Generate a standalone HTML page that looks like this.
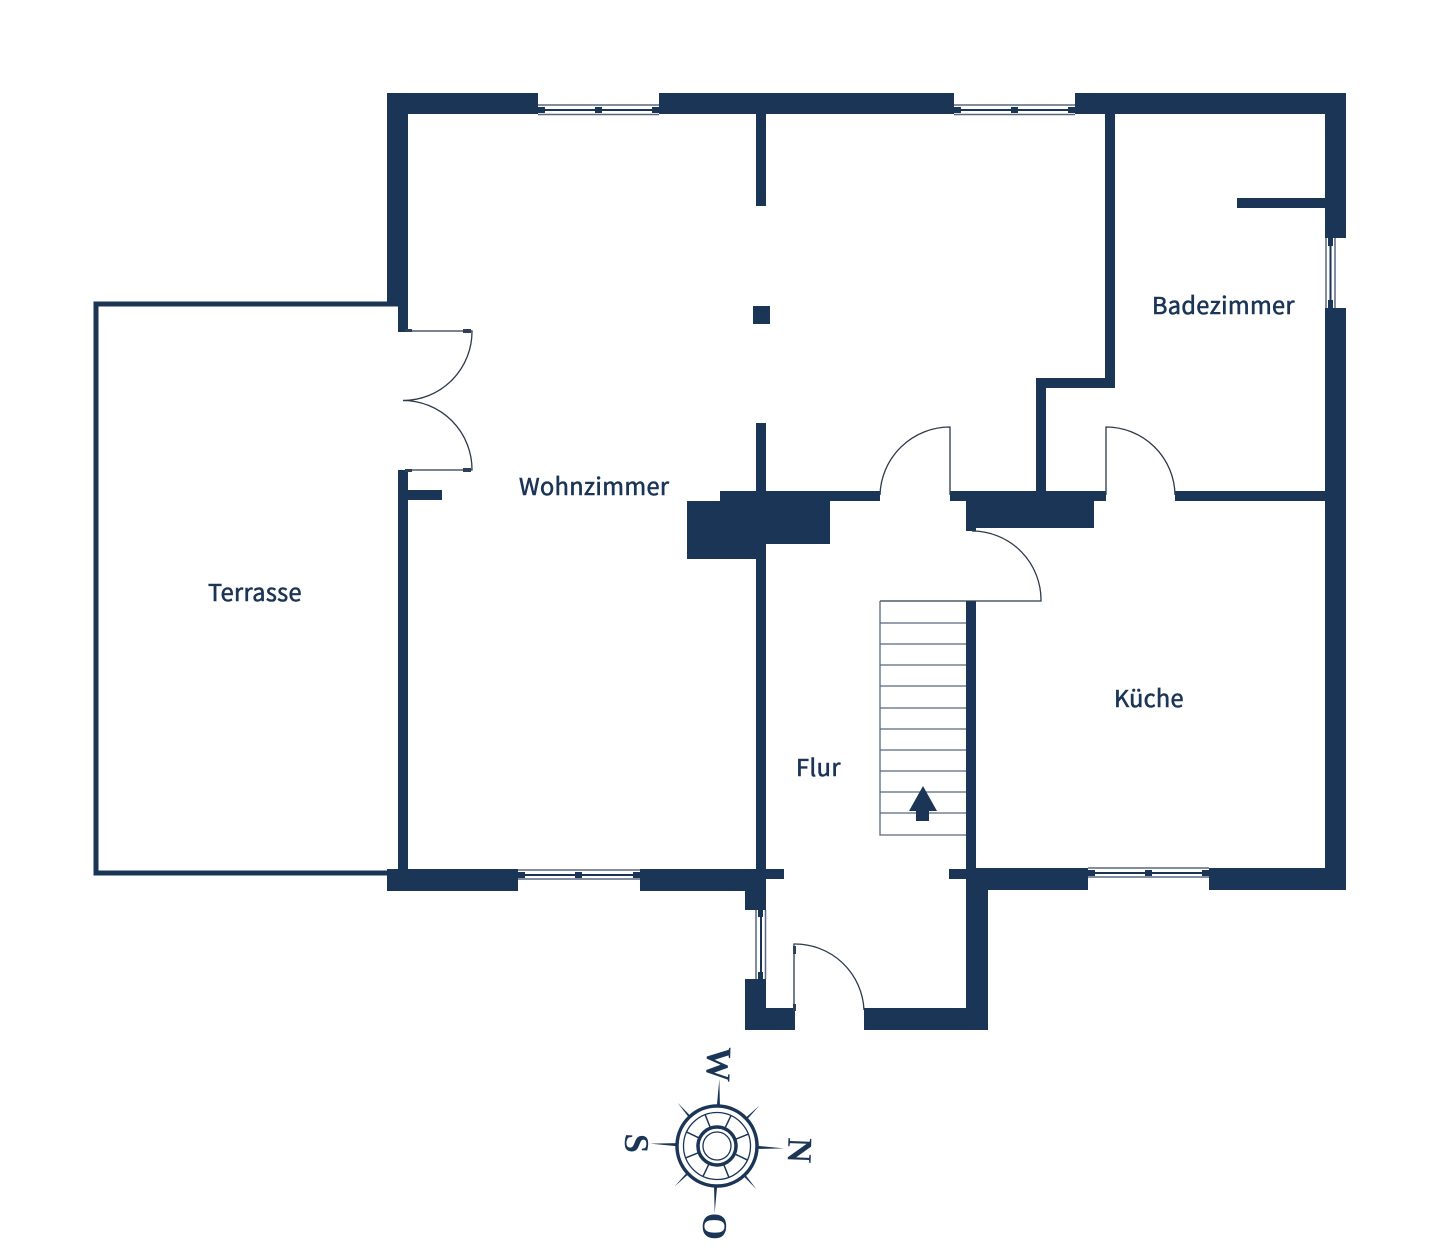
<!DOCTYPE html>
<html><head><meta charset="utf-8"><style>
html,body{margin:0;padding:0;background:#fff}
svg{display:block}
.t{font-family:"Noto Sans CJK SC","Liberation Sans",sans-serif;font-weight:400;font-size:23.500px;fill:#1b3557;stroke:#1b3557;stroke-width:.6px}
.c{font-family:"Liberation Serif",serif;font-weight:700;font-size:35px;fill:#1b3557}
</style></head><body>
<svg width="1440" height="1253" viewBox="0 0 1440 1253" xmlns="http://www.w3.org/2000/svg">
<rect width="1440" height="1253" fill="#fff"/>
<g fill="#1b3557">
<rect x="387" y="93" width="151" height="21"/>
<rect x="659" y="93" width="295" height="21"/>
<rect x="1075" y="93" width="271" height="21"/>
<rect x="387" y="93" width="21" height="210"/>
<rect x="398" y="300" width="10" height="32"/>
<rect x="1325" y="93" width="21" height="145"/>
<rect x="1325" y="308" width="21" height="581"/>
<rect x="1237" y="198" width="90" height="10"/>
<rect x="756" y="114" width="10" height="92"/>
<rect x="753" y="306" width="17" height="18"/>
<rect x="756" y="423" width="10" height="70"/>
<rect x="1105" y="114" width="10" height="273"/>
<rect x="1036" y="378" width="79" height="10"/>
<rect x="1036" y="378" width="10" height="115"/>
<rect x="398" y="470" width="10" height="402"/>
<rect x="408" y="490" width="34" height="10"/>
<rect x="720" y="491" width="160" height="10"/>
<rect x="687" y="501" width="79" height="58"/>
<rect x="766" y="501" width="64" height="43"/>
<rect x="756" y="555" width="10" height="320"/>
<rect x="950" y="491" width="156" height="10"/>
<rect x="1175" y="491" width="151" height="10"/>
<rect x="966" y="501" width="128" height="27"/>
<rect x="966" y="528" width="10" height="3"/>
<rect x="966" y="601" width="10" height="280"/>
<rect x="387" y="869" width="131" height="22"/>
<rect x="640" y="869" width="126" height="22"/>
<rect x="745" y="869" width="21" height="41"/>
<rect x="766" y="869" width="18" height="10"/>
<rect x="949" y="869" width="30" height="10"/>
<rect x="966" y="869" width="22" height="161"/>
<rect x="976" y="868" width="112" height="22"/>
<rect x="1209" y="868" width="137" height="22"/>
<rect x="745" y="979" width="21" height="51"/>
<rect x="745" y="1008" width="50" height="22"/>
<rect x="864" y="1008" width="124" height="22"/>
</g>
<path d="M398 304H96V873H398" fill="none" stroke="#1b3557" stroke-width="5"/>
<!-- windows -->
<g fill="none" stroke="#58687e" stroke-width="1.500">
<path d="M538 105H659M538 114.500H659"/>
<path d="M954 105H1075M954 114.500H1075"/>
<path d="M518 870H640M518 879H640"/>
<path d="M1088 868H1209M1088 877H1209"/>
<path d="M1326 238V308M1335 238V308"/>
<path d="M756 910V979M765.500 910V979"/>
</g>
<g stroke="#1b3557" stroke-width="2" fill="none">
<path d="M538 110H659M954 110H1075M518 875H640M1088 873H1209M1330.500 238V308M761 910V979"/>
</g>
<g fill="#1b3557">
<rect x="538" y="107" width="7" height="6"/><rect x="595" y="107" width="7" height="6"/><rect x="652" y="107" width="7" height="6"/>
<rect x="954" y="107" width="7" height="6"/><rect x="1011" y="107" width="7" height="6"/><rect x="1068" y="107" width="7" height="6"/>
<rect x="518" y="872" width="7" height="6"/><rect x="575" y="872" width="7" height="6"/><rect x="633" y="872" width="7" height="6"/>
<rect x="1088" y="870" width="7" height="6"/><rect x="1145" y="870" width="7" height="6"/><rect x="1202" y="870" width="7" height="6"/>
<rect x="1328" y="238" width="5" height="8"/><rect x="1328" y="300" width="5" height="8"/>
<rect x="758" y="910" width="5" height="7"/><rect x="758" y="972" width="5" height="7"/>
</g>
<!-- doors -->
<g fill="none" stroke="#2b3a4c" stroke-width="1.300">
<path d="M408 331H472A69 69 0 0 1 403 400.500"/>
<path d="M408 470H472A69 69 0 0 0 403 400.500"/>
<path d="M880 495A70 70 0 0 1 950 427V495"/>
<path d="M1106 495V427A69 69 0 0 1 1175 495"/>
<path d="M972 531A69 69 0 0 1 1041 601H880"/>
<path d="M794 1008V944A69 69 0 0 1 864 1010"/>
</g>
<g fill="#2f3f55">
<rect x="463" y="329" width="8" height="4"/><rect x="405" y="329" width="7" height="3"/>
<rect x="463" y="468" width="8" height="4"/><rect x="405" y="469" width="7" height="3"/>
<rect x="793" y="946" width="3" height="8"/><rect x="793" y="1004" width="3" height="7"/>
</g>
<!-- stairs -->
<g fill="none" stroke="#58687e" stroke-width="1.300">
<path d="M880 601V835H966"/>
<path d="M880 623H966M880 644H966M880 665H966M880 686H966M880 708H966M880 729H966M880 750H966M880 771H966M880 792H966M880 813H966"/>
</g>
<path d="M923 786L937 811H929V821H916V811H909Z" fill="#1b3557"/>
<!-- labels -->
<text class="t" x="519" y="495" textLength="150" lengthAdjust="spacing">Wohnzimmer</text>
<text class="t" x="208" y="601" textLength="93.500" lengthAdjust="spacing">Terrasse</text>
<text class="t" x="1152" y="314" textLength="142.500" lengthAdjust="spacing">Badezimmer</text>
<text class="t" x="1114" y="707" textLength="69.500" lengthAdjust="spacing">Küche</text>
<text class="t" x="796" y="776" textLength="44.500" lengthAdjust="spacing">Flur</text>
<!-- compass -->
<g transform="translate(717 1146) rotate(2)">
<g fill="none" stroke="#1b3557">
<circle r="40" stroke-width="3.500"/>
<circle r="33.500" stroke-width="1.300"/>
<circle r="19" stroke-width="3.500"/>
<circle r="14" stroke-width="1.300"/>
<g stroke-width="1.500">
<path d="M7.500 -18.500L13 -31M18.500 -7.500L31 -13M18.500 7.500L31 13M7.500 18.500L13 31M-7.500 18.500L-13 31M-18.500 7.500L-31 13M-18.500 -7.500L-31 -13M-7.500 -18.500L-13 -31"/>
</g>
</g>
<g fill="#1b3557">
<path d="M-1.500 -41L0 -67L1.500 -41Z"/><path d="M-1.500 41L0 67L1.500 41Z"/>
<path d="M41 -1.500L67 0L41 1.500Z"/><path d="M-41 -1.500L-67 0L-41 1.500Z"/>
<path d="M28 -29.500L41 -42L29.500 -28Z"/><path d="M-28 -29.500L-41 -42L-29.500 -28Z"/>
<path d="M28 29.500L41 42L29.500 28Z"/><path d="M-28 29.500L-41 42L-29.500 28Z"/>
</g>
</g>
<text class="c" text-anchor="middle" transform="translate(707 1064) rotate(92)">W</text>
<text class="c" text-anchor="middle" transform="translate(788 1150) rotate(92)">N</text>
<text class="c" text-anchor="middle" transform="translate(625 1143) rotate(92)">S</text>
<text class="c" text-anchor="middle" transform="translate(703 1226) rotate(92)">O</text>
</svg>
</body></html>
